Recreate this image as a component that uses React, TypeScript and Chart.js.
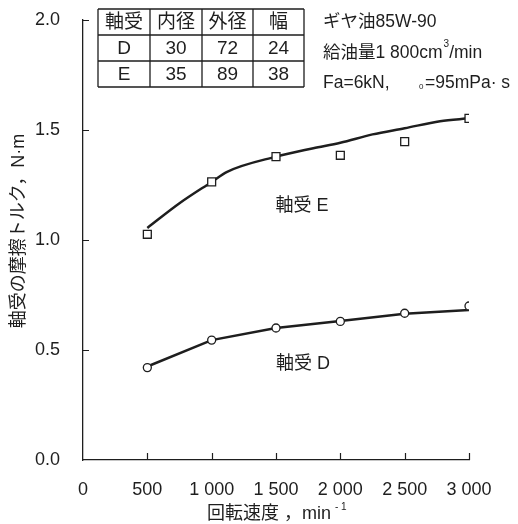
import React, { useEffect, useRef } from "react";
import { Chart, registerables } from "chart.js";

Chart.register(...registerables);

// ---- data ----
const speeds = [500, 1000, 1500, 2000, 2500, 3000];
const torqueE = [1.026, 1.264, 1.379, 1.385, 1.447, 1.553];
const torqueD = [0.42, 0.545, 0.6, 0.63, 0.667, 0.7];

const curveESpeeds = [500, 750, 1000, 1120, 1500, 1790, 2000, 2250, 2500, 2775, 3000];
const curveE = [1.055, 1.167, 1.264, 1.31, 1.379, 1.417, 1.442, 1.48, 1.508, 1.54, 1.553];
const curveDSpeeds = [500, 1000, 1500, 2000, 2500, 3000];
const curveD = [0.425, 0.545, 0.6, 0.632, 0.665, 0.682];

const xTickValues = [0, 500, 1000, 1500, 2000, 2500, 3000];
const xTickLabels = ["0", "500", "1 000", "1 500", "2 000", "2 500", "3 000"];
const yTickValues = [0, 0.5, 1.0, 1.5, 2.0];
const yTickLabels = ["0.0", "0.5", "1.0", "1.5", "2.0"];

const tableHeader = ["軸受", "内径", "外径", "幅"];
const tableRows = [
  ["D", "30", "72", "24"],
  ["E", "35", "89", "38"],
];

const seriesLabels = ["軸受 E", "軸受 D"];
const xTitle = "回転速度 ，min";
const xTitleSup = "- 1";
const yTitle = "軸受の摩擦トルク，N·m";
const noteOil = "ギヤ油85W-90";
const noteFlowA = "給油量1 800cm";
const noteFlowSup = "3";
const noteFlowB = "/min";
const noteLoadA = "Fa=6kN,";
const noteLoadSub = "0";
const noteLoadB = "=95mPa· s";

const FONT = "'Liberation Sans', 'Noto Sans CJK JP', sans-serif";
const INK = "#1e1e1e";

const toXY = (xs: number[], ys: number[]) => xs.map((x, i) => ({ x, y: ys[i] }));

const decorPlugin = {
  id: "decor",
  afterDraw(chart: any) {
    const ctx = chart.ctx as CanvasRenderingContext2D;
    const xs = chart.scales.x;
    const ys = chart.scales.y;
    const area = chart.chartArea;
    ctx.save();
    // inward ticks
    ctx.strokeStyle = INK;
    ctx.lineWidth = 1.2;
    ctx.beginPath();
    yTickValues.forEach((v) => {
      if (v === 0) return;
      const y = Math.round(ys.getPixelForValue(v)) + 0.5;
      ctx.moveTo(area.left, y);
      ctx.lineTo(area.left + 6, y);
    });
    xTickValues.forEach((v) => {
      if (v === 0) return;
      const x = Math.round(xs.getPixelForValue(v)) + 0.5;
      ctx.moveTo(x, area.bottom);
      ctx.lineTo(x, area.bottom - 7);
    });
    ctx.stroke();

    // table
    const colX = [98, 150, 202, 253, 304];
    const rowY = [9, 35, 61, 87];
    ctx.fillStyle = "#fff";
    ctx.fillRect(colX[0], rowY[0], colX[4] - colX[0], rowY[3] - rowY[0]);
    ctx.strokeStyle = INK;
    ctx.lineWidth = 1.3;
    ctx.beginPath();
    rowY.forEach((y) => {
      ctx.moveTo(colX[0], y);
      ctx.lineTo(colX[4], y);
    });
    colX.forEach((x) => {
      ctx.moveTo(x, rowY[0]);
      ctx.lineTo(x, rowY[3]);
    });
    ctx.stroke();
    ctx.fillStyle = INK;
    ctx.font = `19px ${FONT}`;
    ctx.textAlign = "center";
    ctx.textBaseline = "middle";
    const rows = [tableHeader, ...tableRows];
    rows.forEach((r, ri) => {
      r.forEach((t, ci) => {
        ctx.fillText(t, (colX[ci] + colX[ci + 1]) / 2, (rowY[ri] + rowY[ri + 1]) / 2 + 1);
      });
    });

    // notes
    ctx.textAlign = "left";
    const nf = `17.5px ${FONT}`;
    ctx.font = nf;
    ctx.fillText(noteOil, 323, 22);
    let x = 323;
    ctx.fillText(noteFlowA, x, 53);
    x += ctx.measureText(noteFlowA).width;
    ctx.font = `10px ${FONT}`;
    ctx.fillText(noteFlowSup, x + 1, 44);
    x += ctx.measureText(noteFlowSup).width + 1;
    ctx.font = nf;
    ctx.fillText(noteFlowB, x, 53);
    ctx.fillText(noteLoadA, 323, 83);
    ctx.font = `8px ${FONT}`;
    ctx.fillText(noteLoadSub, 419, 87);
    ctx.font = nf;
    ctx.fillText(noteLoadB, 425, 83);

    // series labels
    ctx.font = `18px ${FONT}`;
    ctx.textAlign = "center";
    ctx.fillText(seriesLabels[0], 302, 206);
    ctx.fillText(seriesLabels[1], 303, 364);

    // x title
    ctx.textAlign = "left";
    ctx.font = `18px ${FONT}`;
    const xw = ctx.measureText(xTitle).width;
    const x0 = 207;
    ctx.fillText(xTitle, x0, 514);
    ctx.font = `10px ${FONT}`;
    ctx.fillText(xTitleSup, x0 + xw + 4, 507);

    // y title
    ctx.save();
    ctx.translate(19, 231);
    ctx.rotate(-Math.PI / 2);
    ctx.textAlign = "center";
    ctx.font = `18px ${FONT}`;
    ctx.fillText(yTitle, 0, 0);
    ctx.restore();

    ctx.restore();
  },
};

export default function App() {
  const ref = useRef<HTMLCanvasElement | null>(null);
  useEffect(() => {
    if (!ref.current) return;
    const tickFont = { family: FONT, size: 18 };
    const chart = new Chart(ref.current, {
      type: "line",
      data: {
        datasets: [
          {
            label: "E points",
            data: toXY(speeds, torqueE),
            showLine: false,
            pointStyle: "rect",
            pointRadius: 5.6,
            pointBackgroundColor: "#fff",
            pointBorderColor: INK,
            pointBorderWidth: 1.3,
          },
          {
            label: "D points",
            data: toXY(speeds, torqueD),
            showLine: false,
            pointStyle: "circle",
            pointRadius: 4,
            pointBackgroundColor: "#fff",
            pointBorderColor: INK,
            pointBorderWidth: 1.3,
          },
          {
            label: "E curve",
            data: toXY(curveESpeeds, curveE),
            borderColor: INK,
            borderWidth: 2.5,
            pointRadius: 0,
            cubicInterpolationMode: "monotone",
          },
          {
            label: "D curve",
            data: toXY(curveDSpeeds, curveD),
            borderColor: INK,
            borderWidth: 2.5,
            pointRadius: 0,
            tension: 0,
          },
        ],
      },
      options: {
        animation: false,
        responsive: false,
        devicePixelRatio: 1,
        layout: { padding: { top: 20, right: 49, left: 0, bottom: 0 } },
        plugins: { legend: { display: false }, tooltip: { enabled: false } },
        scales: {
          x: {
            type: "linear",
            min: 0,
            max: 3000,
            afterBuildTicks: (s: any) => {
              s.ticks = xTickValues.map((v) => ({ value: v }));
            },
            afterFit: (s: any) => {
              s.height = 64;
              s.paddingLeft = 0;
              s.paddingRight = 0;
            },
            grid: { display: false },
            border: { display: true, color: INK, width: 1.3 },
            ticks: {
              font: tickFont,
              color: INK,
              padding: 11,
              maxRotation: 0,
              autoSkip: false,
              callback: (v: any) => xTickLabels[xTickValues.indexOf(Number(v))] ?? "",
            },
          },
          y: {
            type: "linear",
            min: 0,
            max: 2,
            afterBuildTicks: (s: any) => {
              s.ticks = yTickValues.map((v) => ({ value: v }));
            },
            afterFit: (s: any) => {
              s.width = 83;
              s.paddingTop = 0;
              s.paddingBottom = 0;
            },
            grid: { display: false },
            border: { display: true, color: INK, width: 1.3 },
            ticks: {
              font: tickFont,
              color: INK,
              padding: 15,
              autoSkip: false,
              callback: (v: any) => yTickLabels[yTickValues.indexOf(Number(v))] ?? "",
            },
          },
        },
      },
      plugins: [decorPlugin],
    });
    return () => chart.destroy();
  }, []);
  return (
    <div style={{ position: "fixed", left: 0, top: 0, width: 518, height: 524, background: "#fff" }}>
      <canvas ref={ref} width={518} height={524} />
    </div>
  );
}
